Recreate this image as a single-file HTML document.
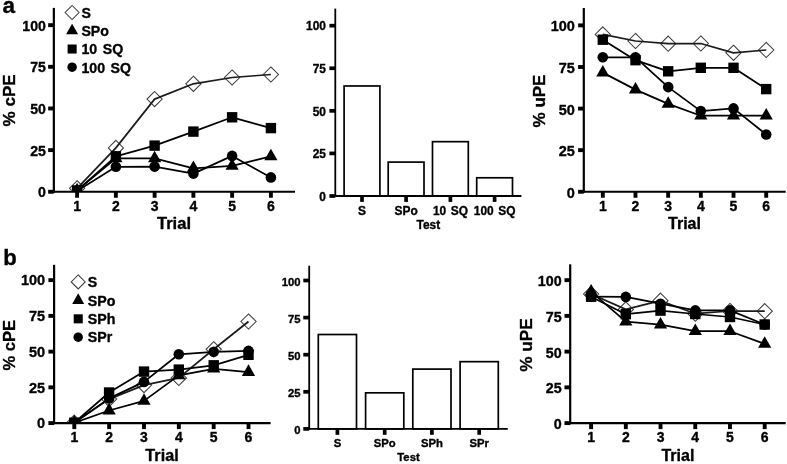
<!DOCTYPE html>
<html><head><meta charset="utf-8"><title>Figure</title>
<style>html,body{margin:0;padding:0;background:#fff;}svg{display:block;}text{font-family:"Liberation Sans",sans-serif;font-weight:bold;fill:#000;stroke:#000;stroke-width:0.35px;stroke-linejoin:round;}</style></head><body>
<svg width="787" height="464" viewBox="0 0 787 464">
<rect width="787" height="464" fill="#fff"/>
<defs><filter id="soft" x="0" y="0" width="100%" height="100%" filterUnits="userSpaceOnUse"><feGaussianBlur stdDeviation="0.4"/></filter></defs>
<g filter="url(#soft)">
<text x="2.6" y="12.6" font-size="22.5" >a</text>
<text x="3.2" y="264.7" font-size="22" >b</text>
<clipPath id="ca"><rect x="53.85" y="-4.1" width="251.2" height="194.75"/></clipPath>
<g clip-path="url(#ca)">
<polygon points="77.1,180.7 84.7,188.3 77.1,195.9 69.5,188.3" fill="none" stroke="#3c3c3c" stroke-width="1.05"/>
<polygon points="115.9,140.3 123.5,147.9 115.9,155.5 108.3,147.9" fill="none" stroke="#3c3c3c" stroke-width="1.05"/>
<polygon points="154.6,91.5 162.2,99.1 154.6,106.7 147.0,99.1" fill="none" stroke="#3c3c3c" stroke-width="1.05"/>
<polygon points="193.4,76.2 201.0,83.8 193.4,91.4 185.8,83.8" fill="none" stroke="#3c3c3c" stroke-width="1.05"/>
<polygon points="232.1,69.9 239.7,77.5 232.1,85.1 224.5,77.5" fill="none" stroke="#3c3c3c" stroke-width="1.05"/>
<polygon points="270.9,66.9 278.5,74.5 270.9,82.1 263.3,74.5" fill="none" stroke="#3c3c3c" stroke-width="1.05"/>
<polyline points="77.1,188.3 115.9,147.9 154.6,99.1 193.4,83.8 232.1,77.5 270.9,74.5" fill="none" stroke="#1c1c1c" stroke-width="1.75" stroke-linejoin="round"/>
<polyline points="77.1,190.4 115.9,158.4 154.6,158.4 193.4,168.3 232.1,165.9 270.9,156.4" fill="none" stroke="#000" stroke-width="1.75" stroke-linejoin="round"/>
<polygon points="77.1,182.7 83.7,194.3 70.5,194.3" fill="#000"/>
<polygon points="115.9,150.7 122.5,162.3 109.3,162.3" fill="#000"/>
<polygon points="154.6,150.7 161.2,162.3 148.0,162.3" fill="#000"/>
<polygon points="193.4,160.5 200.0,172.1 186.8,172.1" fill="#000"/>
<polygon points="232.1,158.2 238.7,169.8 225.5,169.8" fill="#000"/>
<polygon points="270.9,148.7 277.5,160.3 264.3,160.3" fill="#000"/>
<polyline points="77.1,190.4 115.9,156.3 154.6,145.6 193.4,131.6 232.1,117.3 270.9,128.1" fill="none" stroke="#000" stroke-width="1.75" stroke-linejoin="round"/>
<rect x="71.9" y="185.2" width="10.4" height="10.4" fill="#000"/>
<rect x="110.7" y="151.1" width="10.4" height="10.4" fill="#000"/>
<rect x="149.4" y="140.4" width="10.4" height="10.4" fill="#000"/>
<rect x="188.2" y="126.4" width="10.4" height="10.4" fill="#000"/>
<rect x="226.9" y="112.1" width="10.4" height="10.4" fill="#000"/>
<rect x="265.7" y="122.9" width="10.4" height="10.4" fill="#000"/>
<polyline points="77.1,190.9 115.9,166.8 154.6,166.6 193.4,173.6 232.1,155.9 270.9,177.4" fill="none" stroke="#000" stroke-width="1.75" stroke-linejoin="round"/>
<circle cx="77.1" cy="190.9" r="5.30" fill="#000"/>
<circle cx="115.9" cy="166.8" r="5.30" fill="#000"/>
<circle cx="154.6" cy="166.6" r="5.30" fill="#000"/>
<circle cx="193.4" cy="173.6" r="5.30" fill="#000"/>
<circle cx="232.1" cy="155.9" r="5.30" fill="#000"/>
<circle cx="270.9" cy="177.4" r="5.30" fill="#000"/>
</g>
<line x1="53.85" y1="7.9" x2="53.85" y2="192.85" stroke="#000" stroke-width="2.2"/>
<line x1="52.75" y1="191.75" x2="295" y2="191.75" stroke="#000" stroke-width="2.2"/>
<line x1="48.15" y1="191.75" x2="53.85" y2="191.75" stroke="#000" stroke-width="3.9"/>
<text x="45.85" y="197.15" text-anchor="end" font-size="14.1" >0</text>
<line x1="48.15" y1="150.10" x2="53.85" y2="150.10" stroke="#000" stroke-width="3.9"/>
<text x="45.85" y="155.50" text-anchor="end" font-size="14.1" >25</text>
<line x1="48.15" y1="108.45" x2="53.85" y2="108.45" stroke="#000" stroke-width="3.9"/>
<text x="45.85" y="113.85" text-anchor="end" font-size="14.1" >50</text>
<line x1="48.15" y1="66.80" x2="53.85" y2="66.80" stroke="#000" stroke-width="3.9"/>
<text x="45.85" y="72.20" text-anchor="end" font-size="14.1" >75</text>
<line x1="48.15" y1="25.15" x2="53.85" y2="25.15" stroke="#000" stroke-width="3.9"/>
<text x="45.85" y="30.55" text-anchor="end" font-size="14.1" >100</text>
<line x1="77.10" y1="191.75" x2="77.10" y2="197.75" stroke="#000" stroke-width="3.9"/>
<text x="77.10" y="211.15" text-anchor="middle" font-size="14" >1</text>
<line x1="115.86" y1="191.75" x2="115.86" y2="197.75" stroke="#000" stroke-width="3.9"/>
<text x="115.86" y="211.15" text-anchor="middle" font-size="14" >2</text>
<line x1="154.62" y1="191.75" x2="154.62" y2="197.75" stroke="#000" stroke-width="3.9"/>
<text x="154.62" y="211.15" text-anchor="middle" font-size="14" >3</text>
<line x1="193.38" y1="191.75" x2="193.38" y2="197.75" stroke="#000" stroke-width="3.9"/>
<text x="193.38" y="211.15" text-anchor="middle" font-size="14" >4</text>
<line x1="232.14" y1="191.75" x2="232.14" y2="197.75" stroke="#000" stroke-width="3.9"/>
<text x="232.14" y="211.15" text-anchor="middle" font-size="14" >5</text>
<line x1="270.90" y1="191.75" x2="270.90" y2="197.75" stroke="#000" stroke-width="3.9"/>
<text x="270.90" y="211.15" text-anchor="middle" font-size="14" >6</text>
<text x="174.00" y="228.75" text-anchor="middle" font-size="16.5" >Trial</text>
<text transform="translate(15.0,100.4) rotate(-90)" text-anchor="middle" font-size="17" >% cPE</text>
<polygon points="72.1,5.5 79.1,12.5 72.1,19.5 65.1,12.5" fill="none" stroke="#3c3c3c" stroke-width="1.05"/>
<text x="81.4" y="17.90" font-size="14.2" word-spacing="1.6" >S</text>
<polygon points="72.1,23.7 78.1,34.3 66.1,34.3" fill="#000"/>
<text x="81.4" y="36.15" font-size="14.2" word-spacing="1.6" >SPo</text>
<rect x="67.6" y="44.5" width="9.048" height="9.048" fill="#000"/>
<text x="81.4" y="54.40" font-size="14.2" word-spacing="1.6" >10 SQ</text>
<circle cx="72.1" cy="67.2" r="4.72" fill="#000"/>
<text x="81.4" y="72.65" font-size="14.2" word-spacing="1.6" >100 SQ</text>
<rect x="344.10" y="85.97" width="35.8" height="110.03" fill="#fff" stroke="#000" stroke-width="1.7"/>
<line x1="362.00" y1="196.0" x2="362.00" y2="201.90" stroke="#000" stroke-width="3.7"/>
<text x="362.00" y="214.60" text-anchor="middle" font-size="11.9" word-spacing="1.3" >S</text>
<rect x="388.20" y="162.11" width="35.8" height="33.89" fill="#fff" stroke="#000" stroke-width="1.7"/>
<line x1="406.10" y1="196.0" x2="406.10" y2="201.90" stroke="#000" stroke-width="3.7"/>
<text x="406.10" y="214.60" text-anchor="middle" font-size="11.9" word-spacing="1.3" >SPo</text>
<rect x="432.50" y="141.67" width="35.8" height="54.33" fill="#fff" stroke="#000" stroke-width="1.7"/>
<line x1="450.40" y1="196.0" x2="450.40" y2="201.90" stroke="#000" stroke-width="3.7"/>
<text x="450.40" y="214.60" text-anchor="middle" font-size="11.9" word-spacing="1.3" >10 SQ</text>
<rect x="476.70" y="177.78" width="35.8" height="18.22" fill="#fff" stroke="#000" stroke-width="1.7"/>
<line x1="494.60" y1="196.0" x2="494.60" y2="201.90" stroke="#000" stroke-width="3.7"/>
<text x="494.60" y="214.60" text-anchor="middle" font-size="11.9" word-spacing="1.3" >100 SQ</text>
<line x1="335.3" y1="8.6" x2="335.3" y2="196.90" stroke="#000" stroke-width="1.8"/>
<line x1="334.40" y1="196.0" x2="521.4" y2="196.0" stroke="#000" stroke-width="1.8"/>
<line x1="329.40" y1="196.00" x2="335.3" y2="196.00" stroke="#000" stroke-width="3.7"/>
<text x="325.90" y="200.70" text-anchor="end" font-size="11.9" >0</text>
<line x1="329.40" y1="153.42" x2="335.3" y2="153.42" stroke="#000" stroke-width="3.7"/>
<text x="325.90" y="158.12" text-anchor="end" font-size="11.9" >25</text>
<line x1="329.40" y1="110.84" x2="335.3" y2="110.84" stroke="#000" stroke-width="3.7"/>
<text x="325.90" y="115.54" text-anchor="end" font-size="11.9" >50</text>
<line x1="329.40" y1="68.26" x2="335.3" y2="68.26" stroke="#000" stroke-width="3.7"/>
<text x="325.90" y="72.96" text-anchor="end" font-size="11.9" >75</text>
<line x1="329.40" y1="25.68" x2="335.3" y2="25.68" stroke="#000" stroke-width="3.7"/>
<text x="325.90" y="30.38" text-anchor="end" font-size="11.9" >100</text>
<text x="428.35" y="228.90" text-anchor="middle" font-size="11.9" >Test</text>
<clipPath id="cb"><rect x="583.8" y="-4" width="211.9" height="194.65"/></clipPath>
<g clip-path="url(#cb)">
<polygon points="602.8,26.8 610.4,34.4 602.8,42.0 595.2,34.4" fill="none" stroke="#3c3c3c" stroke-width="1.05"/>
<polygon points="635.5,33.4 643.1,41.0 635.5,48.6 627.9,41.0" fill="none" stroke="#3c3c3c" stroke-width="1.05"/>
<polygon points="668.2,36.1 675.8,43.7 668.2,51.3 660.6,43.7" fill="none" stroke="#3c3c3c" stroke-width="1.05"/>
<polygon points="700.8,35.9 708.4,43.5 700.8,51.1 693.2,43.5" fill="none" stroke="#3c3c3c" stroke-width="1.05"/>
<polygon points="733.5,45.2 741.1,52.8 733.5,60.4 725.9,52.8" fill="none" stroke="#3c3c3c" stroke-width="1.05"/>
<polygon points="766.2,42.4 773.8,50.0 766.2,57.6 758.6,50.0" fill="none" stroke="#3c3c3c" stroke-width="1.05"/>
<polyline points="602.8,34.4 635.5,41.0 668.2,43.7 700.8,43.5 733.5,52.8 766.2,50.0" fill="none" stroke="#1c1c1c" stroke-width="1.75" stroke-linejoin="round"/>
<polyline points="602.8,72.6 635.5,89.6 668.2,103.9 700.8,115.7 733.5,115.7 766.2,115.7" fill="none" stroke="#000" stroke-width="1.75" stroke-linejoin="round"/>
<polygon points="602.8,64.9 609.4,76.5 596.2,76.5" fill="#000"/>
<polygon points="635.5,81.9 642.1,93.5 628.9,93.5" fill="#000"/>
<polygon points="668.2,96.2 674.8,107.8 661.6,107.8" fill="#000"/>
<polygon points="700.8,108.0 707.4,119.6 694.2,119.6" fill="#000"/>
<polygon points="733.5,108.0 740.1,119.6 726.9,119.6" fill="#000"/>
<polygon points="766.2,108.0 772.8,119.6 759.6,119.6" fill="#000"/>
<polyline points="602.8,39.7 635.5,60.2 668.2,71.3 700.8,67.8 733.5,67.8 766.2,89.1" fill="none" stroke="#000" stroke-width="1.75" stroke-linejoin="round"/>
<rect x="597.6" y="34.5" width="10.4" height="10.4" fill="#000"/>
<rect x="630.3" y="55.0" width="10.4" height="10.4" fill="#000"/>
<rect x="663.0" y="66.1" width="10.4" height="10.4" fill="#000"/>
<rect x="695.6" y="62.6" width="10.4" height="10.4" fill="#000"/>
<rect x="728.3" y="62.6" width="10.4" height="10.4" fill="#000"/>
<rect x="761.0" y="83.9" width="10.4" height="10.4" fill="#000"/>
<polyline points="602.8,57.3 635.5,57.3 668.2,87.1 700.8,111.1 733.5,108.4 766.2,134.5" fill="none" stroke="#000" stroke-width="1.75" stroke-linejoin="round"/>
<circle cx="602.8" cy="57.3" r="5.30" fill="#000"/>
<circle cx="635.5" cy="57.3" r="5.30" fill="#000"/>
<circle cx="668.2" cy="87.1" r="5.30" fill="#000"/>
<circle cx="700.8" cy="111.1" r="5.30" fill="#000"/>
<circle cx="733.5" cy="108.4" r="5.30" fill="#000"/>
<circle cx="766.2" cy="134.5" r="5.30" fill="#000"/>
</g>
<line x1="583.8" y1="8" x2="583.8" y2="192.85" stroke="#000" stroke-width="2.2"/>
<line x1="582.70" y1="191.75" x2="785.7" y2="191.75" stroke="#000" stroke-width="2.2"/>
<line x1="578.10" y1="191.75" x2="583.8" y2="191.75" stroke="#000" stroke-width="3.9"/>
<text x="574.90" y="197.85" text-anchor="end" font-size="14.5" >0</text>
<line x1="578.10" y1="150.16" x2="583.8" y2="150.16" stroke="#000" stroke-width="3.9"/>
<text x="574.90" y="156.26" text-anchor="end" font-size="14.5" >25</text>
<line x1="578.10" y1="108.57" x2="583.8" y2="108.57" stroke="#000" stroke-width="3.9"/>
<text x="574.90" y="114.67" text-anchor="end" font-size="14.5" >50</text>
<line x1="578.10" y1="66.98" x2="583.8" y2="66.98" stroke="#000" stroke-width="3.9"/>
<text x="574.90" y="73.08" text-anchor="end" font-size="14.5" >75</text>
<line x1="578.10" y1="25.39" x2="583.8" y2="25.39" stroke="#000" stroke-width="3.9"/>
<text x="574.90" y="31.49" text-anchor="end" font-size="14.5" >100</text>
<line x1="602.80" y1="191.75" x2="602.80" y2="197.75" stroke="#000" stroke-width="3.9"/>
<text x="602.80" y="211.25" text-anchor="middle" font-size="14" >1</text>
<line x1="635.48" y1="191.75" x2="635.48" y2="197.75" stroke="#000" stroke-width="3.9"/>
<text x="635.48" y="211.25" text-anchor="middle" font-size="14" >2</text>
<line x1="668.16" y1="191.75" x2="668.16" y2="197.75" stroke="#000" stroke-width="3.9"/>
<text x="668.16" y="211.25" text-anchor="middle" font-size="14" >3</text>
<line x1="700.84" y1="191.75" x2="700.84" y2="197.75" stroke="#000" stroke-width="3.9"/>
<text x="700.84" y="211.25" text-anchor="middle" font-size="14" >4</text>
<line x1="733.52" y1="191.75" x2="733.52" y2="197.75" stroke="#000" stroke-width="3.9"/>
<text x="733.52" y="211.25" text-anchor="middle" font-size="14" >5</text>
<line x1="766.20" y1="191.75" x2="766.20" y2="197.75" stroke="#000" stroke-width="3.9"/>
<text x="766.20" y="211.25" text-anchor="middle" font-size="14" >6</text>
<text x="684.50" y="228.75" text-anchor="middle" font-size="16" >Trial</text>
<text transform="translate(545.3,101) rotate(-90)" text-anchor="middle" font-size="17" >% uPE</text>
<clipPath id="cc"><rect x="54.1" y="252.8" width="226.5" height="169.20"/></clipPath>
<g clip-path="url(#cc)">
<polygon points="74.3,415.1 81.9,422.7 74.3,430.3 66.7,422.7" fill="none" stroke="#3c3c3c" stroke-width="1.05"/>
<polygon points="109.1,391.5 116.7,399.1 109.1,406.7 101.5,399.1" fill="none" stroke="#3c3c3c" stroke-width="1.05"/>
<polygon points="144.0,377.5 151.6,385.1 144.0,392.7 136.4,385.1" fill="none" stroke="#3c3c3c" stroke-width="1.05"/>
<polygon points="178.8,370.3 186.4,377.9 178.8,385.5 171.2,377.9" fill="none" stroke="#3c3c3c" stroke-width="1.05"/>
<polygon points="213.7,341.7 221.3,349.3 213.7,356.9 206.1,349.3" fill="none" stroke="#3c3c3c" stroke-width="1.05"/>
<polygon points="248.5,313.9 256.1,321.5 248.5,329.1 240.9,321.5" fill="none" stroke="#3c3c3c" stroke-width="1.05"/>
<polyline points="74.3,422.7 109.1,399.1 144.0,385.1 178.8,377.9 213.7,349.3 248.5,321.5" fill="none" stroke="#1c1c1c" stroke-width="1.75" stroke-linejoin="round"/>
<polyline points="74.3,422.8 109.1,410.5 144.0,400.9 178.8,375.4 213.7,368.8 248.5,372.1" fill="none" stroke="#000" stroke-width="1.75" stroke-linejoin="round"/>
<polygon points="74.3,415.1 80.9,426.7 67.7,426.7" fill="#000"/>
<polygon points="109.1,402.8 115.7,414.4 102.5,414.4" fill="#000"/>
<polygon points="144.0,393.2 150.6,404.8 137.4,404.8" fill="#000"/>
<polygon points="178.8,367.6 185.4,379.2 172.2,379.2" fill="#000"/>
<polygon points="213.7,361.0 220.3,372.6 207.1,372.6" fill="#000"/>
<polygon points="248.5,364.3 255.1,375.9 241.9,375.9" fill="#000"/>
<polyline points="74.3,422.7 109.1,392.5 144.0,371.6 178.8,369.6 213.7,365.3 248.5,354.8" fill="none" stroke="#000" stroke-width="1.75" stroke-linejoin="round"/>
<rect x="69.1" y="417.5" width="10.4" height="10.4" fill="#000"/>
<rect x="103.9" y="387.3" width="10.4" height="10.4" fill="#000"/>
<rect x="138.8" y="366.4" width="10.4" height="10.4" fill="#000"/>
<rect x="173.6" y="364.4" width="10.4" height="10.4" fill="#000"/>
<rect x="208.5" y="360.1" width="10.4" height="10.4" fill="#000"/>
<rect x="243.3" y="349.6" width="10.4" height="10.4" fill="#000"/>
<polyline points="74.3,422.7 109.1,398.4 144.0,381.9 178.8,354.3 213.7,351.8 248.5,350.9" fill="none" stroke="#000" stroke-width="1.75" stroke-linejoin="round"/>
<circle cx="74.3" cy="422.7" r="5.30" fill="#000"/>
<circle cx="109.1" cy="398.4" r="5.30" fill="#000"/>
<circle cx="144.0" cy="381.9" r="5.30" fill="#000"/>
<circle cx="178.8" cy="354.3" r="5.30" fill="#000"/>
<circle cx="213.7" cy="351.8" r="5.30" fill="#000"/>
<circle cx="248.5" cy="350.9" r="5.30" fill="#000"/>
</g>
<line x1="54.1" y1="264.8" x2="54.1" y2="424.20" stroke="#000" stroke-width="2.2"/>
<line x1="53.00" y1="423.1" x2="270.6" y2="423.1" stroke="#000" stroke-width="2.2"/>
<line x1="48.40" y1="423.10" x2="54.1" y2="423.10" stroke="#000" stroke-width="3.9"/>
<text x="45.20" y="428.40" text-anchor="end" font-size="14.5" >0</text>
<line x1="48.40" y1="387.36" x2="54.1" y2="387.36" stroke="#000" stroke-width="3.9"/>
<text x="45.20" y="392.66" text-anchor="end" font-size="14.5" >25</text>
<line x1="48.40" y1="351.62" x2="54.1" y2="351.62" stroke="#000" stroke-width="3.9"/>
<text x="45.20" y="356.92" text-anchor="end" font-size="14.5" >50</text>
<line x1="48.40" y1="315.88" x2="54.1" y2="315.88" stroke="#000" stroke-width="3.9"/>
<text x="45.20" y="321.18" text-anchor="end" font-size="14.5" >75</text>
<line x1="48.40" y1="280.14" x2="54.1" y2="280.14" stroke="#000" stroke-width="3.9"/>
<text x="45.20" y="285.44" text-anchor="end" font-size="14.5" >100</text>
<line x1="74.30" y1="423.1" x2="74.30" y2="429.10" stroke="#000" stroke-width="3.9"/>
<text x="74.30" y="442.00" text-anchor="middle" font-size="14" >1</text>
<line x1="109.14" y1="423.1" x2="109.14" y2="429.10" stroke="#000" stroke-width="3.9"/>
<text x="109.14" y="442.00" text-anchor="middle" font-size="14" >2</text>
<line x1="143.98" y1="423.1" x2="143.98" y2="429.10" stroke="#000" stroke-width="3.9"/>
<text x="143.98" y="442.00" text-anchor="middle" font-size="14" >3</text>
<line x1="178.82" y1="423.1" x2="178.82" y2="429.10" stroke="#000" stroke-width="3.9"/>
<text x="178.82" y="442.00" text-anchor="middle" font-size="14" >4</text>
<line x1="213.66" y1="423.1" x2="213.66" y2="429.10" stroke="#000" stroke-width="3.9"/>
<text x="213.66" y="442.00" text-anchor="middle" font-size="14" >5</text>
<line x1="248.50" y1="423.1" x2="248.50" y2="429.10" stroke="#000" stroke-width="3.9"/>
<text x="248.50" y="442.00" text-anchor="middle" font-size="14" >6</text>
<text x="162.00" y="460.70" text-anchor="middle" font-size="16.2" >Trial</text>
<text transform="translate(15.2,345.2) rotate(-90)" text-anchor="middle" font-size="16.6" >% cPE</text>
<polygon points="78.2,274.9 85.2,281.9 78.2,288.9 71.2,281.9" fill="none" stroke="#3c3c3c" stroke-width="1.05"/>
<text x="87.8" y="287.10" font-size="14.2" word-spacing="1.6" >S</text>
<polygon points="78.2,293.3 84.2,303.9 72.2,303.9" fill="#000"/>
<text x="87.8" y="305.55" font-size="14.2" word-spacing="1.6" >SPo</text>
<rect x="73.7" y="314.3" width="9.048" height="9.048" fill="#000"/>
<text x="87.8" y="324.00" font-size="14.2" word-spacing="1.6" >SPh</text>
<circle cx="78.2" cy="337.2" r="4.72" fill="#000"/>
<text x="87.8" y="342.45" font-size="14.2" word-spacing="1.6" >SPr</text>
<rect x="318.30" y="334.52" width="38.2" height="94.38" fill="#fff" stroke="#000" stroke-width="1.7"/>
<line x1="337.40" y1="428.9" x2="337.40" y2="434.80" stroke="#000" stroke-width="3.7"/>
<text x="337.40" y="446.50" text-anchor="middle" font-size="11.3" word-spacing="0" >S</text>
<rect x="365.60" y="392.84" width="38.2" height="36.06" fill="#fff" stroke="#000" stroke-width="1.7"/>
<line x1="384.70" y1="428.9" x2="384.70" y2="434.80" stroke="#000" stroke-width="3.7"/>
<text x="384.70" y="446.50" text-anchor="middle" font-size="11.3" word-spacing="0" >SPo</text>
<rect x="412.80" y="369.09" width="38.2" height="59.81" fill="#fff" stroke="#000" stroke-width="1.7"/>
<line x1="431.90" y1="428.9" x2="431.90" y2="434.80" stroke="#000" stroke-width="3.7"/>
<text x="431.90" y="446.50" text-anchor="middle" font-size="11.3" word-spacing="0" >SPh</text>
<rect x="460.10" y="361.67" width="38.2" height="67.23" fill="#fff" stroke="#000" stroke-width="1.7"/>
<line x1="479.20" y1="428.9" x2="479.20" y2="434.80" stroke="#000" stroke-width="3.7"/>
<text x="479.20" y="446.50" text-anchor="middle" font-size="11.3" word-spacing="0" >SPr</text>
<line x1="309.2" y1="265.7" x2="309.2" y2="429.80" stroke="#000" stroke-width="1.8"/>
<line x1="308.30" y1="428.9" x2="507.8" y2="428.9" stroke="#000" stroke-width="1.8"/>
<line x1="303.30" y1="428.90" x2="309.2" y2="428.90" stroke="#000" stroke-width="3.7"/>
<text x="300.50" y="433.90" text-anchor="end" font-size="11.3" >0</text>
<line x1="303.30" y1="391.80" x2="309.2" y2="391.80" stroke="#000" stroke-width="3.7"/>
<text x="300.50" y="396.80" text-anchor="end" font-size="11.3" >25</text>
<line x1="303.30" y1="354.70" x2="309.2" y2="354.70" stroke="#000" stroke-width="3.7"/>
<text x="300.50" y="359.70" text-anchor="end" font-size="11.3" >50</text>
<line x1="303.30" y1="317.60" x2="309.2" y2="317.60" stroke="#000" stroke-width="3.7"/>
<text x="300.50" y="322.60" text-anchor="end" font-size="11.3" >75</text>
<line x1="303.30" y1="280.50" x2="309.2" y2="280.50" stroke="#000" stroke-width="3.7"/>
<text x="300.50" y="285.50" text-anchor="end" font-size="11.3" >100</text>
<text x="408.50" y="460.90" text-anchor="middle" font-size="11.3" >Test</text>
<clipPath id="cd"><rect x="570.2" y="252.3" width="225.5" height="169.70"/></clipPath>
<g clip-path="url(#cd)">
<polygon points="591.1,286.4 598.7,294.0 591.1,301.6 583.5,294.0" fill="none" stroke="#3c3c3c" stroke-width="1.05"/>
<polygon points="625.8,301.8 633.4,309.4 625.8,317.0 618.2,309.4" fill="none" stroke="#3c3c3c" stroke-width="1.05"/>
<polygon points="660.5,293.1 668.1,300.7 660.5,308.3 652.9,300.7" fill="none" stroke="#3c3c3c" stroke-width="1.05"/>
<polygon points="695.3,306.1 702.9,313.7 695.3,321.3 687.7,313.7" fill="none" stroke="#3c3c3c" stroke-width="1.05"/>
<polygon points="730.0,303.4 737.6,311.0 730.0,318.6 722.4,311.0" fill="none" stroke="#3c3c3c" stroke-width="1.05"/>
<polygon points="764.7,303.6 772.3,311.2 764.7,318.8 757.1,311.2" fill="none" stroke="#3c3c3c" stroke-width="1.05"/>
<polyline points="591.1,294.0 625.8,309.4 660.5,300.7 695.3,313.7 730.0,311.0 764.7,311.2" fill="none" stroke="#1c1c1c" stroke-width="1.75" stroke-linejoin="round"/>
<polyline points="591.1,291.7 625.8,321.7 660.5,324.7 695.3,331.2 730.0,331.2 764.7,343.9" fill="none" stroke="#000" stroke-width="1.75" stroke-linejoin="round"/>
<polygon points="591.1,284.0 597.7,295.6 584.5,295.6" fill="#000"/>
<polygon points="625.8,314.0 632.4,325.6 619.2,325.6" fill="#000"/>
<polygon points="660.5,317.0 667.1,328.6 653.9,328.6" fill="#000"/>
<polygon points="695.3,323.4 701.9,335.0 688.7,335.0" fill="#000"/>
<polygon points="730.0,323.4 736.6,335.0 723.4,335.0" fill="#000"/>
<polygon points="764.7,336.2 771.3,347.8 758.1,347.8" fill="#000"/>
<polyline points="591.1,296.7 625.8,314.2 660.5,310.6 695.3,314.0 730.0,317.0 764.7,324.5" fill="none" stroke="#000" stroke-width="1.75" stroke-linejoin="round"/>
<rect x="585.9" y="291.5" width="10.4" height="10.4" fill="#000"/>
<rect x="620.6" y="309.0" width="10.4" height="10.4" fill="#000"/>
<rect x="655.3" y="305.4" width="10.4" height="10.4" fill="#000"/>
<rect x="690.1" y="308.8" width="10.4" height="10.4" fill="#000"/>
<rect x="724.8" y="311.8" width="10.4" height="10.4" fill="#000"/>
<rect x="759.5" y="319.3" width="10.4" height="10.4" fill="#000"/>
<polyline points="591.1,296.6 625.8,296.9 660.5,303.7 695.3,310.4 730.0,310.4 764.7,324.5" fill="none" stroke="#000" stroke-width="1.75" stroke-linejoin="round"/>
<circle cx="591.1" cy="296.6" r="5.30" fill="#000"/>
<circle cx="625.8" cy="296.9" r="5.30" fill="#000"/>
<circle cx="660.5" cy="303.7" r="5.30" fill="#000"/>
<circle cx="695.3" cy="310.4" r="5.30" fill="#000"/>
<circle cx="730.0" cy="310.4" r="5.30" fill="#000"/>
<circle cx="764.7" cy="324.5" r="5.30" fill="#000"/>
</g>
<line x1="570.2" y1="264.3" x2="570.2" y2="424.20" stroke="#000" stroke-width="2.2"/>
<line x1="569.10" y1="423.1" x2="785.7" y2="423.1" stroke="#000" stroke-width="2.2"/>
<line x1="564.50" y1="423.10" x2="570.2" y2="423.10" stroke="#000" stroke-width="3.9"/>
<text x="561.60" y="429.00" text-anchor="end" font-size="14.3" >0</text>
<line x1="564.50" y1="387.36" x2="570.2" y2="387.36" stroke="#000" stroke-width="3.9"/>
<text x="561.60" y="393.26" text-anchor="end" font-size="14.3" >25</text>
<line x1="564.50" y1="351.62" x2="570.2" y2="351.62" stroke="#000" stroke-width="3.9"/>
<text x="561.60" y="357.52" text-anchor="end" font-size="14.3" >50</text>
<line x1="564.50" y1="315.88" x2="570.2" y2="315.88" stroke="#000" stroke-width="3.9"/>
<text x="561.60" y="321.78" text-anchor="end" font-size="14.3" >75</text>
<line x1="564.50" y1="280.14" x2="570.2" y2="280.14" stroke="#000" stroke-width="3.9"/>
<text x="561.60" y="286.04" text-anchor="end" font-size="14.3" >100</text>
<line x1="591.10" y1="423.1" x2="591.10" y2="429.10" stroke="#000" stroke-width="3.9"/>
<text x="591.10" y="442.00" text-anchor="middle" font-size="14" >1</text>
<line x1="625.82" y1="423.1" x2="625.82" y2="429.10" stroke="#000" stroke-width="3.9"/>
<text x="625.82" y="442.00" text-anchor="middle" font-size="14" >2</text>
<line x1="660.54" y1="423.1" x2="660.54" y2="429.10" stroke="#000" stroke-width="3.9"/>
<text x="660.54" y="442.00" text-anchor="middle" font-size="14" >3</text>
<line x1="695.26" y1="423.1" x2="695.26" y2="429.10" stroke="#000" stroke-width="3.9"/>
<text x="695.26" y="442.00" text-anchor="middle" font-size="14" >4</text>
<line x1="729.98" y1="423.1" x2="729.98" y2="429.10" stroke="#000" stroke-width="3.9"/>
<text x="729.98" y="442.00" text-anchor="middle" font-size="14" >5</text>
<line x1="764.70" y1="423.1" x2="764.70" y2="429.10" stroke="#000" stroke-width="3.9"/>
<text x="764.70" y="442.00" text-anchor="middle" font-size="14" >6</text>
<text x="677.90" y="460.70" text-anchor="middle" font-size="16" >Trial</text>
<text transform="translate(532.0,345.0) rotate(-90)" text-anchor="middle" font-size="17.2" >% uPE</text>
</g></svg></body></html>
